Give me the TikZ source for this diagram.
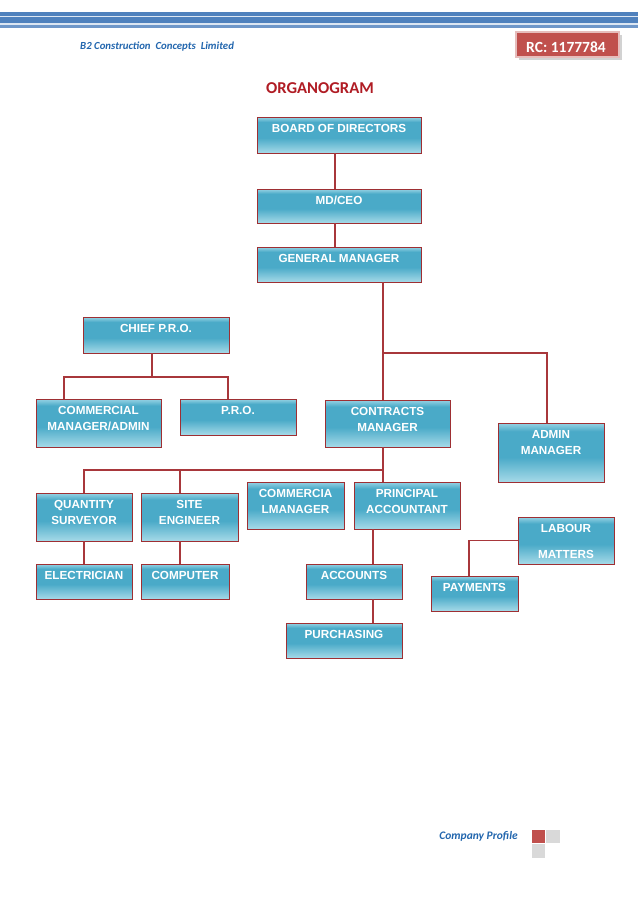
\documentclass[tikz,border=0pt]{standalone}
\usepackage{fontspec}
\setmainfont{Liberation Sans}
\newfontfamily\carlito{Carlito}
\usetikzlibrary{fit}
\definecolor{shbot}{HTML}{A6DAE8}
\definecolor{shmid}{HTML}{4AAAC8}
\definecolor{shtop}{HTML}{8CCDE0}
\definecolor{boxedge}{HTML}{9E2F33}
\definecolor{connred}{HTML}{A8373B}
\definecolor{hdrdark}{HTML}{4F81BD}
\definecolor{hdrlight}{HTML}{DCE6F2}
\definecolor{hdrmid}{HTML}{6F97C9}
\definecolor{rcred}{HTML}{C0504D}
\definecolor{rcedge}{HTML}{E6BDBC}
\definecolor{titlered}{HTML}{B01C24}
\definecolor{textblue}{HTML}{2266AE}
\definecolor{sqgrey}{HTML}{D9D9D9}
\pgfdeclareverticalshading{boxshade}{100bp}{color(0bp)=(shbot); color(25bp)=(shbot); color(46bp)=(shmid); color(68bp)=(shmid); color(74bp)=(shtop); color(100bp)=(shtop)}
\tikzset{
  obox/.style={draw=boxedge, line width=0.9pt, shading=boxshade, inner sep=0pt},
  otext/.style={anchor=north, inner sep=0pt, text=white, align=center,
    font=\fontsize{11.7}{16}\selectfont\bfseries},
  conn/.style={draw=connred, line width=1.1pt}
}
\newcommand\orgbox[6]{%
  \node[obox, fit={(#2,#3)(#4,#5)}] (#1) {};
  \node[otext] (#1-t) at ([yshift=-7.3pt]#1.north) {#6};
}
\begin{document}
\begin{tikzpicture}[x=1pt,y=-1pt]
\useasboundingbox[fill=white] (0,0) rectangle (638,903);
% header stripes
\fill[hdrdark] (0,12.3) rectangle (638,15.7);
\fill[hdrlight] (0,15.7) rectangle (638,17.3);
\fill[hdrdark] (0,17.3) rectangle (638,23.3);
\fill[hdrlight] (0,23.3) rectangle (638,25);
\fill[hdrmid] (0,25) rectangle (638,27.5);
% header texts
\node[anchor=base west, inner sep=0pt, text=textblue,
  font=\carlito\bfseries\itshape\fontsize{10.8}{12}\selectfont] (company) at (80,49.2)
  {B2 Construction\ \ Concepts\ \ Limited};
\fill[gray!35] (518.5,34.5) rectangle (621.5,59.5);
\node[fill=rcred, draw=rcedge, line width=1.2pt, inner sep=0pt, fit={(516,32)(619,57)}] (rc) {};
\node[text=white, inner sep=0pt, font=\carlito\bfseries\fontsize{15.5}{18}\selectfont] (rc-t) at (566,47) {RC: 1177784};
\node[anchor=base, inner sep=0pt, text=titlered,
  font=\carlito\bfseries\fontsize{16.6}{19}\selectfont] (title) at (320,93.6) {ORGANOGRAM};
% boxes
\orgbox{bod}{257}{117}{421}{153}{BOARD OF DIRECTORS}
\orgbox{md}{257}{189}{421}{223}{MD/CEO}
\orgbox{gm}{257}{247}{421}{282}{GENERAL MANAGER}
\orgbox{cpro}{83}{317}{229}{353}{CHIEF P.R.O.}
\orgbox{cm}{36}{399}{161}{447}{COMMERCIAL\\MANAGER/ADMIN}
\orgbox{pro}{180}{399}{296}{435}{P.R.O.}
\orgbox{ctm}{325}{400}{450}{447}{CONTRACTS\\MANAGER}
\orgbox{adm}{498}{423}{604}{482}{ADMIN\\MANAGER}
\orgbox{qs}{36}{493}{132}{541}{QUANTITY\\SURVEYOR}
\orgbox{se}{141}{493}{238}{541}{SITE\\ENGINEER}
\orgbox{cml}{247}{482}{344}{529}{COMMERCIA\\LMANAGER}
\orgbox{pa}{354}{482}{460}{529}{PRINCIPAL\\ACCOUNTANT}
\orgbox{lab}{518}{517}{614}{564}{LABOUR\\[10pt]MATTERS}
\orgbox{el}{36}{564}{132}{599}{ELECTRICIAN}
\orgbox{comp}{141}{564}{229}{599}{COMPUTER}
\orgbox{acc}{306}{564}{402}{599}{ACCOUNTS}
\orgbox{pay}{431}{576}{518}{611}{PAYMENTS}
\orgbox{pur}{286}{623}{402}{658}{PURCHASING}
% junction coordinates
\coordinate (xa) at (335,0);
\coordinate (ja) at (383,353);
\coordinate (jb) at (547,353);
\coordinate (jc) at (383,470);
\coordinate (jd) at (84,470);
\coordinate (je) at (180,470);
\coordinate (xf) at (373,0);
\coordinate (xg) at (469,0);
\coordinate (jh) at (152,377);
\coordinate (ji) at (64,377);
\coordinate (jj) at (228,377);
% connectors
\draw[conn] (bod.south -| xa) -- (md.north -| xa);
\draw[conn] (md.south -| xa) -- (gm.north -| xa);
\draw[conn] (gm.south -| ja) -- (ctm.north -| ja);
\draw[conn] (ja) -- (jb) -- (adm.north -| jb);
\draw[conn] (ctm.south -| jc) -- (pa.north -| jc);
\draw[conn] (jc) -- (jd) -- (qs.north -| jd);
\draw[conn] (je) -- (se.north -| je);
\draw[conn] (qs.south -| jd) -- (el.north -| jd);
\draw[conn] (se.south -| je) -- (comp.north -| je);
\draw[conn] (pa.south -| xf) -- (acc.north -| xf);
\draw[conn] (acc.south -| xf) -- (pur.north -| xf);
\draw[conn] (lab.west) -| (pay.north -| xg);
\draw[conn] (cpro.south -| jh) -- (jh);
\draw[conn] (cm.north -| ji) -- (ji) -- (jj) -- (pro.north -| jj);
% footer
\node[anchor=base east, inner sep=0pt, text=textblue,
  font=\carlito\bfseries\itshape\fontsize{11.5}{13}\selectfont] (profile) at (518,839.7) {Company Profile};
\fill[rcred] (531.5,829.5) rectangle (545,843);
\fill[sqgrey] (546,829.5) rectangle (559.5,843);
\fill[sqgrey] (531.5,844) rectangle (545,857.5);
\end{tikzpicture}
\end{document}
